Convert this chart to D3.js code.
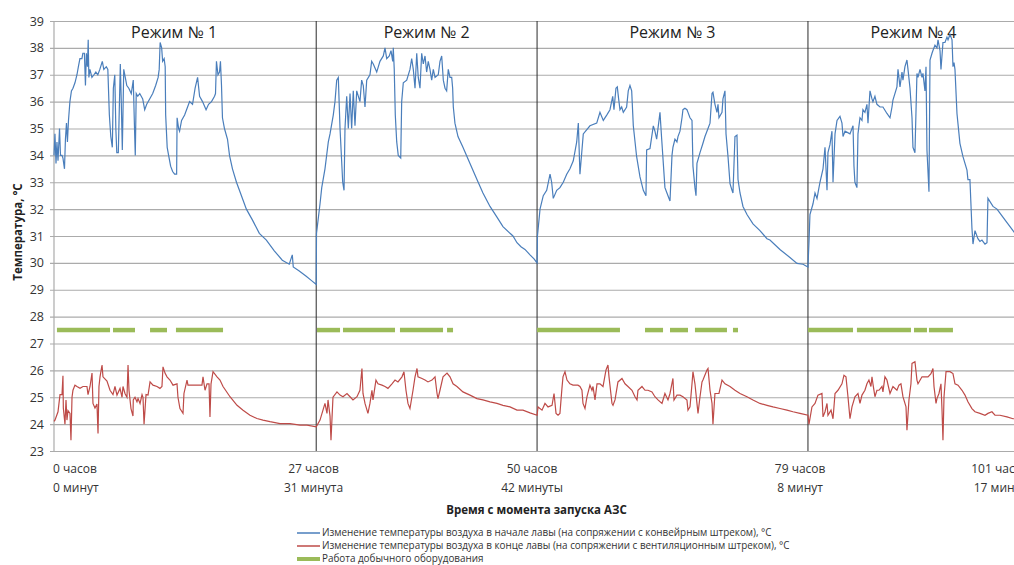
<!DOCTYPE html>
<html>
<head>
<meta charset="utf-8">
<script src="https://cdn.jsdelivr.net/npm/d3@7/dist/d3.min.js"></script>
<style>
    body { margin: 0; background: #fff; }
    text { font-family: "Open Sans", "Noto Sans", sans-serif; }
</style>
</head>
<body>
<div id="chart"></div>
<script>
// operating modes and their borders (hours since start)
const modeNames = ["Режим № 1", "Режим № 2", "Режим № 3", "Режим № 4"];
const boundaryHours = [0, 27.52, 50.7, 79.13, 101.28];
const boundaryLabels = [
    ["0 часов", "0 минут"],
    ["27 часов", "31 минута"],
    ["50 часов", "42 минуты"],
    ["79 часов", "8 минут"],
    ["101 часов", "17 минут"],
];
const yTicks = [23, 24, 25, 26, 27, 28, 29, 30, 31, 32, 33, 34, 35, 36, 37, 38, 39];

// [hours, °C] - air temperature at the start of the face (conveyor drift)
const startTemps = [
    [0, 34.0], [0.10, 34.8], [0.21, 33.7], [0.31, 34.5], [0.42, 33.8], [0.58, 35.0], [0.68, 34.0], [0.84, 34.0],
    [0.94, 33.9], [1.10, 33.5], [1.20, 34.6], [1.31, 35.2], [1.41, 34.5], [1.52, 35.3], [1.67, 36.0], [1.83, 36.4],
    [1.99, 36.5], [2.20, 36.7], [2.41, 37.0], [2.56, 37.3], [2.72, 37.6], [2.93, 37.6], [3.03, 37.8], [3.19, 37.8],
    [3.30, 36.6], [3.40, 37.8], [3.51, 37.3], [3.59, 38.3], [3.66, 36.9], [3.77, 37.2], [3.98, 36.9], [4.19, 37.0],
    [4.39, 37.1], [4.60, 37.0], [4.81, 37.2], [5.07, 37.5], [5.23, 37.2], [5.49, 37.3], [5.65, 37.2], [5.81, 35.5],
    [5.96, 34.7], [6.12, 34.3], [6.23, 36.5], [6.38, 37.0], [6.49, 35.0], [6.59, 34.1], [6.75, 34.1], [6.96, 37.4],
    [7.06, 36.0], [7.17, 34.2], [7.32, 37.2], [7.48, 36.9], [7.64, 36.6], [7.85, 36.5], [8.11, 36.3], [8.32, 36.8],
    [8.45, 35.0], [8.53, 34.0], [8.63, 36.3], [8.79, 36.2], [9.00, 36.3], [9.31, 36.1], [9.52, 35.7], [9.73, 35.9],
    [10.04, 36.1], [10.36, 36.3], [10.67, 36.6], [10.93, 36.9], [11.04, 37.2], [11.14, 38.2], [11.30, 38.0], [11.40, 37.5],
    [11.56, 37.6], [11.67, 37.3], [11.72, 35.5], [11.88, 34.3], [12.03, 34.0], [12.24, 33.6], [12.45, 33.4], [12.66, 33.3],
    [12.87, 33.3], [12.92, 35.4], [13.08, 35.0], [13.18, 34.9], [13.39, 35.3], [13.71, 35.5], [14.02, 35.8], [14.23, 36.0],
    [14.54, 35.9], [14.81, 36.5], [15.07, 36.9], [15.28, 36.2], [15.59, 36.0], [15.96, 35.7], [16.22, 35.9], [16.53, 36.0],
    [16.85, 36.2], [16.95, 36.3], [17.05, 37.5], [17.21, 37.0], [17.37, 37.1], [17.47, 37.5], [17.58, 36.6], [17.68, 35.4],
    [17.89, 35.0], [18.21, 34.6], [18.42, 34.0], [18.73, 33.5], [19.15, 33.0], [19.46, 32.7], [20.19, 32.0], [20.82, 31.6],
    [21.55, 31.1], [22.29, 30.85], [23.12, 30.45], [23.96, 30.1], [24.69, 29.95], [25.01, 30.3], [25.11, 29.85], [25.74, 29.7],
    [26.47, 29.5], [27.00, 29.35], [27.52, 29.2],
    [27.55, 31.1], [27.92, 32.2], [28.10, 32.8], [28.44, 33.5], [28.79, 34.5], [28.97, 34.8], [29.31, 35.5], [29.49, 36.0],
    [29.67, 36.8], [29.84, 36.9], [30.02, 35.0], [30.30, 33.0], [30.44, 32.7], [30.54, 35.0], [30.72, 36.2], [30.89, 35.0],
    [31.07, 36.3], [31.24, 35.0], [31.41, 36.4], [31.59, 35.1], [31.77, 36.4], [32.11, 36.0], [32.29, 36.8], [32.46, 36.6],
    [32.64, 35.8], [32.82, 36.8], [33.16, 37.0], [33.34, 37.5], [33.51, 37.4], [33.87, 37.1], [34.21, 37.5], [34.56, 37.7],
    [34.74, 38.0], [34.92, 37.6], [35.19, 37.7], [35.37, 37.9], [35.55, 37.5], [35.61, 38.0], [35.71, 37.2], [35.82, 35.5],
    [35.97, 34.5], [36.13, 34.0], [36.39, 33.9], [36.49, 36.0], [36.66, 36.7], [37.02, 36.8], [37.36, 37.2], [37.54, 37.6],
    [37.71, 37.2], [37.89, 36.5], [38.07, 37.8], [38.23, 36.9], [38.41, 36.5], [38.59, 37.8], [38.76, 37.4], [38.94, 37.7],
    [39.11, 37.1], [39.28, 37.5], [39.46, 37.2], [39.64, 36.8], [39.81, 37.2], [39.99, 36.9], [40.33, 37.0], [40.51, 37.5],
    [40.69, 37.7], [40.86, 36.8], [41.04, 36.5], [41.21, 36.4], [41.38, 37.2], [41.56, 36.9], [41.74, 36.9], [41.84, 36.5],
    [41.91, 35.8], [42.08, 35.2], [42.40, 34.7], [42.92, 34.3], [43.66, 33.7], [44.39, 33.1], [45.02, 32.6], [45.76, 32.1],
    [46.49, 31.7], [47.12, 31.35], [47.86, 31.1], [48.17, 31.0], [48.59, 30.75], [49.01, 30.6], [49.43, 30.5], [49.96, 30.3],
    [50.38, 30.15], [50.70, 30.0],
    [50.74, 31.0], [51.01, 32.0], [51.35, 32.5], [51.71, 32.7], [52.06, 33.3], [52.23, 33.0], [52.40, 32.4], [52.76, 32.7],
    [53.10, 32.8], [53.45, 33.0], [53.81, 33.3], [54.15, 33.5], [54.50, 33.8], [54.86, 34.5], [55.03, 35.2], [55.20, 33.3],
    [55.55, 34.8], [56.25, 35.1], [56.96, 35.2], [57.30, 35.6], [57.65, 35.3], [58.01, 35.5], [58.35, 35.7], [58.64, 36.2],
    [58.77, 35.7], [58.98, 36.5], [59.12, 36.55], [59.26, 36.1], [59.40, 35.7], [59.58, 35.8], [59.75, 35.6], [59.93, 35.7],
    [60.10, 35.8], [60.27, 36.4], [60.45, 36.6], [60.63, 36.4], [60.80, 35.1], [61.15, 33.95], [61.50, 33.2], [61.85, 32.7],
    [62.13, 32.5], [62.20, 34.2], [62.55, 34.25], [62.90, 35.1], [63.07, 34.9], [63.25, 34.6], [63.60, 35.6], [63.78, 34.6],
    [64.12, 32.8], [64.33, 32.6], [64.65, 32.3], [64.86, 34.0], [64.96, 34.3], [65.17, 34.6], [65.38, 34.5], [65.49, 34.7],
    [65.70, 34.9], [65.91, 35.4], [66.01, 35.7], [66.22, 35.75], [66.43, 35.7], [66.54, 35.6], [66.75, 35.4], [66.96, 35.3],
    [67.06, 33.6], [67.27, 32.8], [67.38, 32.5], [67.48, 33.7], [67.80, 34.1], [68.11, 34.45], [68.32, 34.7], [68.53, 34.9],
    [68.85, 35.2], [69.06, 36.3], [69.16, 36.35], [69.37, 35.9], [69.58, 35.6], [69.69, 35.9], [69.79, 35.4], [70.11, 35.6],
    [70.21, 36.1], [70.42, 36.4], [70.53, 34.8], [70.74, 33.95], [70.95, 32.95], [71.16, 32.7], [71.26, 32.6], [71.47, 34.7],
    [71.68, 34.75], [71.79, 33.1], [72.00, 32.6], [72.31, 32.1], [72.73, 31.8], [73.36, 31.45], [74.09, 31.2], [74.83, 30.9],
    [75.14, 30.85], [76.19, 30.5], [77.24, 30.2], [77.98, 29.98], [78.61, 29.95], [79.13, 29.85],
    [79.24, 30.8], [79.34, 31.8], [79.66, 32.2], [79.87, 32.6], [80.08, 32.4], [80.39, 33.0], [80.71, 33.5], [80.92, 34.3],
    [81.13, 32.7], [81.23, 34.1], [81.44, 34.4], [81.65, 34.9], [81.76, 33.0], [81.97, 34.8], [82.18, 35.3], [82.49, 35.45],
    [82.70, 35.2], [82.81, 34.7], [83.02, 34.9], [83.54, 34.8], [83.86, 35.1], [83.96, 33.6], [84.06, 33.0], [84.27, 32.8],
    [84.38, 34.8], [84.59, 35.4], [84.80, 35.3], [84.90, 35.7], [85.11, 35.6], [85.32, 35.9], [85.43, 35.2], [85.64, 36.4],
    [85.85, 36.1], [85.95, 36.0], [86.16, 36.2], [86.37, 35.9], [86.69, 35.8], [87.00, 35.8], [87.42, 35.56], [87.74, 35.4],
    [87.95, 35.8], [88.05, 36.06], [88.47, 36.55], [88.58, 37.2], [88.79, 36.55], [89.00, 37.1], [89.10, 36.8], [89.31, 37.3],
    [89.52, 37.55], [89.63, 37.2], [89.84, 36.5], [90.05, 35.4], [90.15, 34.3], [90.36, 34.1], [90.57, 37.05], [90.68, 36.9],
    [90.89, 37.2], [91.10, 36.9], [91.20, 37.05], [91.41, 36.4], [91.52, 37.3], [91.62, 34.2], [91.83, 32.65], [91.94, 37.55],
    [92.15, 37.8], [92.25, 37.9], [92.46, 38.1], [92.67, 38.0], [92.78, 38.3], [92.99, 37.9], [93.09, 37.2], [93.30, 38.2],
    [93.51, 38.2], [93.72, 38.4], [93.83, 38.3], [94.04, 38.5], [94.25, 38.3], [94.35, 37.3], [94.46, 37.45], [94.56, 37.2],
    [94.77, 35.56], [95.08, 34.45], [95.40, 33.95], [95.82, 33.45], [95.92, 33.1], [96.13, 33.1], [96.34, 31.3], [96.45, 30.7],
    [96.66, 31.2], [96.97, 30.9], [97.18, 30.8], [97.39, 30.85], [97.71, 30.7], [97.92, 30.75], [98.02, 32.4], [98.55, 32.1],
    [98.97, 32.0], [99.28, 31.85], [100.02, 31.5], [100.65, 31.2], [101.28, 30.9],
];

// [hours, °C] - air temperature at the end of the face (ventilation drift)
const endTemps = [
    [0, 24.1], [0.10, 24.15], [0.42, 24.46], [0.63, 25.1], [0.84, 25.1], [0.94, 25.8], [0.98, 24.6], [1.15, 24.0],
    [1.26, 24.9], [1.36, 24.15], [1.47, 24.5], [1.68, 24.4], [1.78, 23.4], [1.89, 25.0], [1.99, 25.26], [2.20, 25.45],
    [2.41, 25.4], [2.73, 25.33], [3.04, 25.4], [3.46, 25.4], [3.57, 25.1], [3.78, 25.4], [3.99, 25.9], [4.09, 24.77],
    [4.30, 24.6], [4.51, 24.75], [4.62, 23.65], [4.72, 25.4], [4.83, 25.76], [5.04, 26.2], [5.14, 25.76], [5.56, 25.6],
    [5.88, 25.26], [6.19, 25.1], [6.40, 25.4], [6.61, 25.08], [6.93, 25.33], [7.14, 25.0], [7.24, 25.4], [7.45, 25.14],
    [7.66, 25.0], [7.77, 26.2], [7.87, 25.26], [8.08, 24.58], [8.29, 24.3], [8.32, 24.9], [8.50, 25.0], [8.71, 24.83],
    [8.82, 24.95], [9.03, 24.77], [9.24, 25.1], [9.34, 25.0], [9.45, 24.0], [9.66, 25.1], [9.87, 25.08], [10.08, 25.57],
    [10.39, 25.45], [10.81, 25.4], [11.12, 25.33], [11.33, 25.4], [11.44, 26.13], [11.65, 25.9], [11.86, 25.76], [12.17, 25.64],
    [12.49, 25.45], [12.91, 25.5], [13.01, 25.0], [13.22, 24.58], [13.54, 24.4], [13.64, 25.14], [13.96, 25.64], [14.06, 25.45],
    [14.48, 25.45], [14.80, 25.45], [15.11, 25.45], [15.53, 25.45], [15.64, 25.76], [15.85, 25.26], [16.06, 25.5], [16.27, 25.5],
    [16.37, 24.27], [16.48, 25.5], [16.69, 25.95], [17.11, 25.76], [17.42, 25.64], [17.74, 25.4], [18.47, 25.02], [19.21, 24.7],
    [19.84, 24.52], [20.57, 24.33], [21.30, 24.21], [21.93, 24.15], [22.67, 24.09], [23.72, 24.02], [24.77, 24.02], [25.82, 23.96],
    [26.55, 23.96], [27.52, 23.9],
    [27.92, 24.15], [28.44, 24.77], [28.65, 24.4], [28.76, 24.9], [28.97, 24.3], [29.07, 23.4], [29.28, 25.0], [29.70, 25.2],
    [30.02, 25.08], [30.33, 25.02], [30.75, 25.14], [31.07, 25.02], [31.38, 24.9], [31.80, 25.02], [32.11, 25.26], [32.32, 26.07],
    [32.43, 25.14], [32.64, 24.77], [32.95, 24.4], [33.16, 24.77], [33.37, 25.26], [33.48, 24.9], [33.79, 25.64], [34.00, 25.5],
    [34.42, 25.45], [34.74, 25.4], [35.05, 25.33], [35.47, 25.5], [35.79, 25.64], [36.10, 25.57], [36.52, 25.76], [36.73, 25.95],
    [36.94, 25.26], [37.15, 24.77], [37.36, 24.58], [37.68, 25.26], [37.89, 25.76], [38.10, 26.07], [38.20, 25.76], [38.62, 25.7],
    [38.94, 25.64], [39.25, 25.57], [39.67, 25.64], [39.99, 25.76], [40.20, 25.14], [40.30, 24.95], [40.51, 25.26], [40.83, 25.76],
    [41.25, 25.9], [41.56, 25.76], [41.88, 25.5], [42.29, 25.4], [42.92, 25.2], [43.66, 25.08], [44.39, 24.95], [45.02, 24.9],
    [45.76, 24.83], [46.49, 24.77], [47.12, 24.7], [47.86, 24.64], [48.59, 24.52], [49.22, 24.52], [49.96, 24.42], [50.70, 24.33],
    [50.80, 24.64], [51.22, 24.52], [51.53, 24.77], [51.85, 24.64], [52.27, 24.7], [52.48, 25.14], [52.69, 24.4], [52.90, 24.33],
    [53.10, 24.4], [53.31, 25.33], [53.42, 25.76], [53.63, 25.95], [53.84, 25.64], [54.15, 25.5], [54.47, 25.45], [54.99, 25.45],
    [55.20, 25.4], [55.41, 25.26], [55.52, 24.77], [55.73, 24.58], [55.94, 25.02], [56.25, 25.45], [56.46, 25.26], [56.57, 25.4],
    [56.78, 24.9], [56.99, 25.5], [57.30, 25.5], [57.62, 25.4], [57.93, 26.01], [58.14, 26.2], [58.25, 25.76], [58.56, 24.77],
    [58.67, 24.7], [58.88, 24.9], [59.19, 25.57], [59.61, 25.7], [59.93, 25.5], [60.24, 25.4], [60.66, 25.26], [60.98, 25.02],
    [61.19, 24.9], [61.29, 25.26], [61.71, 25.4], [62.03, 25.26], [62.34, 25.26], [62.76, 25.2], [63.07, 25.02], [63.39, 24.9],
    [63.81, 24.77], [64.12, 25.14], [64.44, 24.9], [64.65, 25.14], [64.96, 25.7], [65.07, 24.9], [65.38, 25.08], [65.70, 25.08],
    [66.01, 25.02], [66.43, 24.9], [66.54, 24.52], [66.75, 24.64], [66.96, 25.5], [67.06, 25.95], [67.27, 25.5], [67.48, 24.77],
    [67.59, 24.4], [67.80, 25.02], [68.01, 25.57], [68.11, 25.64], [68.53, 26.01], [68.64, 26.07], [68.85, 25.26], [69.06, 24.77],
    [69.16, 24.0], [69.37, 25.14], [69.79, 25.14], [70.11, 25.64], [70.42, 25.5], [70.95, 25.4], [71.47, 25.26], [72.00, 25.14],
    [72.73, 25.02], [73.36, 24.9], [74.09, 24.77], [74.83, 24.7], [75.46, 24.64], [76.19, 24.58], [76.93, 24.52], [77.56, 24.46],
    [78.29, 24.4], [79.13, 24.33],
    [79.24, 24.0], [79.55, 24.64], [79.87, 24.77], [80.18, 25.08], [80.60, 25.14], [80.71, 24.27], [80.92, 24.46], [81.13, 24.77],
    [81.23, 24.33], [81.55, 24.52], [81.76, 24.2], [81.97, 25.14], [82.28, 25.26], [82.70, 25.5], [82.91, 25.82], [83.12, 25.76],
    [83.33, 25.02], [83.54, 24.2], [83.75, 24.64], [84.06, 25.02], [84.38, 25.14], [84.59, 24.77], [84.80, 25.08], [85.11, 25.26],
    [85.32, 25.5], [85.53, 25.64], [85.74, 25.4], [85.85, 25.76], [85.95, 25.5], [86.16, 25.02], [86.37, 25.26], [86.58, 25.26],
    [86.90, 25.4], [87.00, 25.2], [87.21, 25.76], [87.42, 25.64], [87.74, 25.14], [88.05, 25.4], [88.47, 25.26], [88.68, 25.45],
    [88.89, 25.5], [89.10, 25.02], [89.42, 24.64], [89.52, 23.77], [89.73, 24.9], [89.94, 25.5], [90.05, 26.26], [90.36, 26.32],
    [90.57, 25.64], [90.68, 25.5], [91.10, 25.76], [91.41, 25.76], [91.73, 25.76], [92.04, 25.88], [92.25, 26.07], [92.36, 25.4],
    [92.57, 24.77], [92.67, 24.95], [92.88, 25.14], [93.09, 25.5], [93.20, 24.52], [93.30, 23.4], [93.41, 25.02], [93.62, 25.95],
    [94.04, 25.95], [94.35, 25.88], [94.56, 25.5], [94.88, 25.45], [95.30, 25.26], [95.61, 25.08], [95.92, 24.83], [96.34, 24.58],
    [96.66, 24.46], [97.18, 24.4], [97.71, 24.33], [98.02, 24.4], [98.44, 24.46], [98.76, 24.33], [99.28, 24.33], [100.02, 24.27],
    [100.65, 24.2], [101.28, 24.2],
];

// [from, to] hours - mining equipment running, drawn at a fixed level
const equipmentLevel = 27.5;
const equipmentRuns = [
    [0.31, 5.88], [6.19, 8.50], [10.08, 11.86], [12.80, 17.74],
    [27.60, 30.02], [30.33, 35.79], [36.31, 40.83], [41.25, 41.88],
    [50.69, 59.40], [62.03, 63.92], [64.65, 66.54], [67.27, 70.63], [71.26, 71.79],
    [79.13, 83.86], [84.27, 89.94], [90.26, 91.62], [91.83, 94.35],
];

const legendItems = [
    { label: "Изменение температуры воздуха в начале лавы (на сопряжении с конвейрным штреком), °С", color: "#4a7ebb", width: 1.5 },
    { label: "Изменение температуры воздуха в конце лавы (на сопряжении с вентиляционным штреком), °С", color: "#be4b48", width: 1.5 },
    { label: "Работа добычного оборудования", color: "#9bbb59", width: 4 },
];

const graphDimensions = {
    margin: { top: 21, right: 0, bottom: 0, left: 54 },
    width: 965,
    height: 430,
};
const { width, height, margin } = graphDimensions;

const root = d3
    .select("#chart")
    .append("svg")
    .attr("width", 1014)
    .attr("height", 565)
    .style("display", "block");

root.append("rect").attr("width", 1014).attr("height", 565).attr("fill", "#fff");

const svg = root.append("g").attr("transform", `translate(${margin.left}, ${margin.top})`);

const xScale = d3.scaleLinear().domain([0, 101.28]).range([0, width]);
const yScale = d3.scaleLinear().domain([23, 39]).range([height, 0]);
// tick labels sit slightly left of the mode borders
const xLabelScale = d3.scaleLinear().domain([0, 101.28]).range([0, 955]);

// grid + y axis
const yAxis = svg
    .append("g")
    .attr("transform", "translate(-4, 0)")
    .call(d3.axisLeft(yScale).tickValues(yTicks).tickSize(-(width + 4)).tickPadding(6));
yAxis.select(".domain").remove();
yAxis.selectAll(".tick line").attr("stroke", "#ababab").attr("stroke-width", 1.2);
yAxis
    .selectAll(".tick text")
    .attr("fill", "#333")
    .style("font-size", "12.5px");

svg.append("line")
    .attr("x1", 0).attr("x2", 0)
    .attr("y1", 0).attr("y2", height)
    .attr("stroke", "#ababab")
    .attr("stroke-width", 1.2);

// mode borders
svg.selectAll(".mode-border")
    .data(boundaryHours.slice(1, -1))
    .join("line")
    .attr("class", "mode-border")
    .attr("x1", (d) => xScale(d)).attr("x2", (d) => xScale(d))
    .attr("y1", 0).attr("y2", height)
    .attr("stroke", "#2b2b2b")
    .attr("stroke-width", 1);

// mode titles
svg.selectAll(".mode-title")
    .data(modeNames)
    .join("text")
    .attr("class", "mode-title")
    .attr("x", (d, i) => xScale((boundaryHours[i] + boundaryHours[i + 1]) / 2) - (i === 0 ? 11 : 0))
    .attr("y", 17)
    .attr("text-anchor", "middle")
    .attr("fill", "#222")
    .style("font-size", "16px")
    .text((d) => d);

const line = d3
    .line()
    .x((d) => xScale(d[0]))
    .y((d) => yScale(d[1]));

svg.append("path")
    .datum(endTemps)
    .attr("fill", "none")
    .attr("stroke", "#be4b48")
    .attr("stroke-width", 1.2)
    .attr("d", line);

svg.append("path")
    .datum(startTemps)
    .attr("fill", "none")
    .attr("stroke", "#4a7ebb")
    .attr("stroke-width", 1.2)
    .attr("d", line);

svg.selectAll(".run")
    .data(equipmentRuns)
    .join("line")
    .attr("class", "run")
    .attr("x1", (d) => xScale(d[0]))
    .attr("x2", (d) => xScale(d[1]))
    .attr("y1", yScale(equipmentLevel))
    .attr("y2", yScale(equipmentLevel))
    .attr("stroke", "#9bbb59")
    .attr("stroke-width", 4.5);

// x labels (two lines each); the last one runs past the right edge as in the source
const xLabels = root
    .selectAll(".x-label")
    .data(boundaryLabels)
    .join("text")
    .attr("class", "x-label")
    .attr("fill", "#333")
    .style("font-size", "12px")
    .attr("text-anchor", (d, i) => (i === 0 ? "start" : "middle"))
    .attr("transform", (d, i) => {
        const h = boundaryHours[i];
        const x = i === 0 ? margin.left - 1 : margin.left + xLabelScale(h) - (i === boundaryLabels.length - 1 ? 9 : 0);
        return `translate(${x}, 473)`;
    });
xLabels
    .selectAll("tspan")
    .data((d) => d)
    .join("tspan")
    .attr("x", 0)
    .attr("y", (d, i) => i * 19)
    .text((d) => d);

// axis titles
root.append("text")
    .attr("x", margin.left + width / 2)
    .attr("y", 514)
    .attr("text-anchor", "middle")
    .attr("fill", "#222")
    .style("font-size", "11.5px")
    .style("font-weight", "bold")
    .text("Время с момента запуска АЗС");

root.append("text")
    .attr("transform", "translate(22, 232) rotate(-90)")
    .attr("text-anchor", "middle")
    .attr("fill", "#222")
    .style("font-size", "11.5px")
    .style("font-weight", "bold")
    .text("Температура, °С");

// legend
const legend = root
    .selectAll(".legend")
    .data(legendItems)
    .join("g")
    .attr("class", "legend")
    .attr("transform", (d, i) => `translate(297, ${533 + i * 13})`);
legend
    .append("line")
    .attr("x1", 0).attr("x2", 23)
    .attr("stroke", (d) => d.color)
    .attr("stroke-width", (d) => d.width);
legend
    .append("text")
    .attr("x", 25)
    .attr("dy", "0.35em")
    .attr("fill", "#333")
    .style("font-size", "9.9px")
    .text((d) => d.label);
</script>
</body>
</html>
